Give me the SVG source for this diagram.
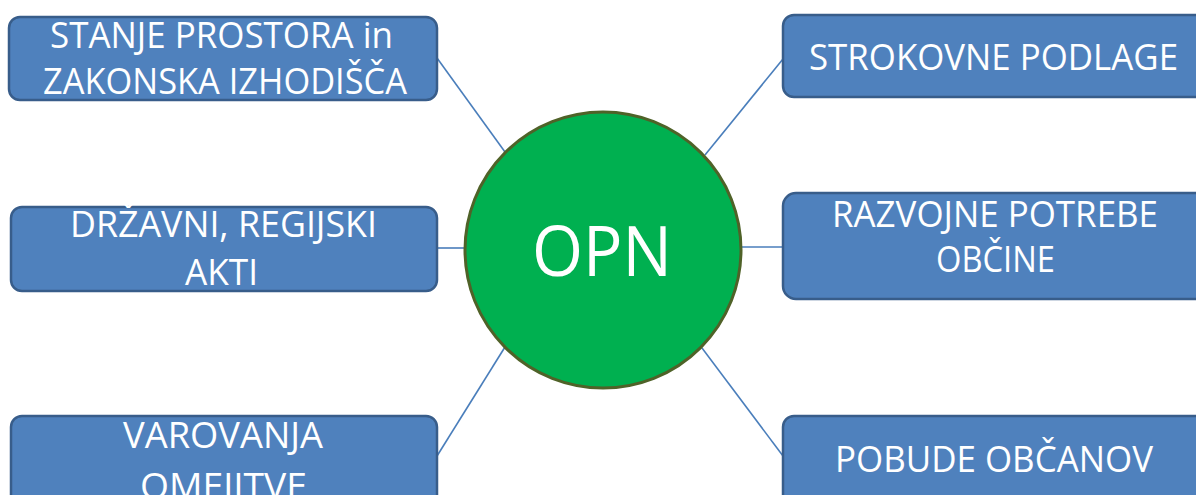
<svg xmlns="http://www.w3.org/2000/svg" width="1196" height="495" viewBox="0 0 1196 495">
<style>
.box{fill:#4f81bd;stroke:#385d8a;stroke-width:2.5}
.t{fill:#ffffff;font-family:"Open Sans","Liberation Sans",sans-serif;font-size:37px}
.c{fill:none;stroke:#4a7ebb;stroke-width:1.6}
</style>
<rect width="1196" height="495" fill="#ffffff"/>
<g id="connectors">
<line class="c" x1="437" y1="58" x2="505" y2="152"/>
<line class="c" x1="783" y1="59" x2="705" y2="155"/>
<line class="c" x1="437" y1="248" x2="465" y2="248"/>
<line class="c" x1="741" y1="247" x2="783" y2="247"/>
<line class="c" x1="505" y1="347" x2="437" y2="456"/>
<line class="c" x1="702" y1="348" x2="783" y2="456"/>
</g>
<g id="n-stanje">
<rect class="box" x="9" y="17" width="428" height="83" rx="11"/>
<text class="t" x="50" y="48" textLength="343" lengthAdjust="spacingAndGlyphs">STANJE PROSTORA in</text>
<text class="t" x="43" y="94" textLength="364" lengthAdjust="spacingAndGlyphs">ZAKONSKA IZHODIŠČA</text>
</g>
<g id="n-strokovne">
<rect class="box" x="783" y="15" width="430" height="82" rx="11"/>
<text class="t" x="809" y="70" textLength="369" lengthAdjust="spacingAndGlyphs">STROKOVNE PODLAGE</text>
</g>
<g id="n-drzavni">
<rect class="box" x="11" y="207" width="426" height="84" rx="11"/>
<text class="t" x="70" y="237" textLength="307" lengthAdjust="spacingAndGlyphs">DRŽAVNI, REGIJSKI</text>
<text class="t" x="185" y="285" textLength="73" lengthAdjust="spacingAndGlyphs">AKTI</text>
</g>
<g id="n-razvojne">
<rect class="box" x="783" y="193" width="430" height="106" rx="13"/>
<text class="t" x="832" y="227" textLength="326" lengthAdjust="spacingAndGlyphs">RAZVOJNE POTREBE</text>
<text class="t" x="936" y="272" textLength="119" lengthAdjust="spacingAndGlyphs">OBČINE</text>
</g>
<g id="n-varovanja">
<rect class="box" x="11" y="416" width="426" height="100" rx="11"/>
<text class="t" x="123" y="448" textLength="200" lengthAdjust="spacingAndGlyphs">VAROVANJA</text>
<text class="t" x="140" y="499" textLength="167" lengthAdjust="spacingAndGlyphs">OMEJITVE</text>
</g>
<g id="n-pobude">
<rect class="box" x="783" y="416" width="430" height="100" rx="11"/>
<text class="t" x="835" y="472" textLength="318" lengthAdjust="spacingAndGlyphs">POBUDE OBČANOV</text>
</g>
<g id="n-opn">
<circle cx="603" cy="250" r="138" fill="#00b050" stroke="#4f6228" stroke-width="3"/>
<text x="532" y="276" textLength="140" lengthAdjust="spacingAndGlyphs" fill="#ffffff" font-family="Open Sans, Liberation Sans, sans-serif" font-size="70">OPN</text>
</g>
</svg>
